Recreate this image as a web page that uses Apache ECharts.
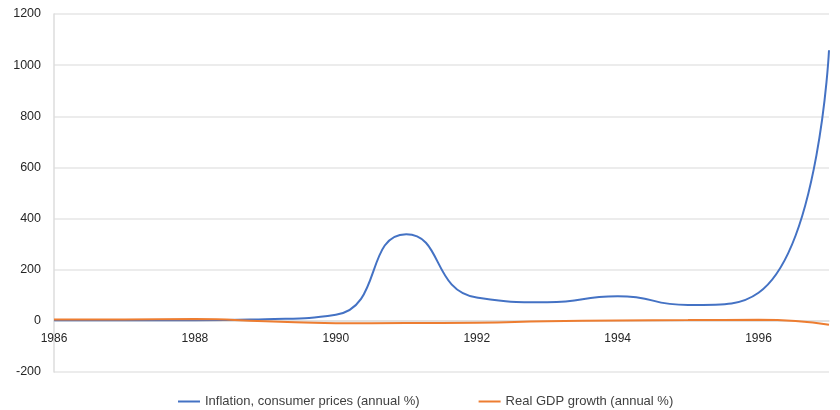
<!DOCTYPE html>
<html>
<head>
<meta charset="utf-8">
<script src="https://cdn.jsdelivr.net/npm/echarts@6/dist/echarts.min.js"></script>
<style>html,body{margin:0;padding:0;background:#fff}#c{width:840px;height:410px}</style>
</head>
<body>
<div id="c"></div>
<script>
const years = [1986, 1987, 1988, 1989, 1990, 1991, 1992, 1993, 1994, 1995, 1996, 1997];
const inflation = [2.7, 2.7, 2.5, 6.4, 23.8, 338.5, 91.3, 72.9, 96.1, 62.1, 110, 1058];
const gdpGrowth = [5.3, 5.5, 7, -1.5, -9.1, -8.4, -7.3, -1.5, 1.8, 2.9, 4, -15];
const yTicks = { min: -200, max: 1200, interval: 200 };
const xTicks = { min: 1986, max: 1997, interval: 2 };
const seriesNames = ['Inflation, consumer prices (annual %)', 'Real GDP growth (annual %)'];

const chart = echarts.init(document.getElementById('c'));
const font = 'Liberation Sans, Arial, sans-serif';
const gridTop = 14, gridBottom = 38, H = 410;
const plotH = H - gridTop - gridBottom;
// position of value 0 measured from the plot bottom
const zeroFromBottom = plotH * (0 - yTicks.min) / (yTicks.max - yTicks.min);
chart.setOption({
  animation: false,
  backgroundColor: '#fff',
  grid: { left: 54, right: 11, top: gridTop, bottom: gridBottom },
  legend: {
    top: 390,
    left: 173,
    itemWidth: 22,
    itemHeight: 2,
    itemGap: 59,
    icon: 'rect',
    textStyle: { fontFamily: font, fontSize: 13, color: '#404040' },
    data: seriesNames
  },
  xAxis: {
    type: 'value',
    position: 'bottom',
    offset: -zeroFromBottom,
    min: xTicks.min, max: xTicks.max, interval: xTicks.interval,
    axisLine: { onZero: false, lineStyle: { color: '#dcdcdc', width: 1.5 } },
    axisTick: { show: false },
    splitLine: { show: false },
    axisLabel: { fontFamily: font, fontSize: 12, color: '#262626', margin: 12, showMaxLabel: false,
      formatter: v => String(v) }
  },
  yAxis: {
    type: 'value',
    min: yTicks.min, max: yTicks.max, interval: yTicks.interval,
    axisLine: { show: true, onZero: false, lineStyle: { color: '#dcdcdc', width: 1.5 } },
    axisTick: { show: false },
    splitLine: { lineStyle: { color: '#e6e6e6', width: 1.5 } },
    axisLabel: { fontFamily: font, fontSize: 12.5, color: '#262626', margin: 13, formatter: v => String(v) }
  },
  series: [
    {
      name: seriesNames[0], type: 'line', smooth: 0.55, showSymbol: false,
      lineStyle: { color: '#4472C4', width: 2 }, itemStyle: { color: '#4472C4' },
      data: years.map((y, i) => [y, inflation[i]])
    },
    {
      name: seriesNames[1], type: 'line', smooth: 0.55, showSymbol: false,
      lineStyle: { color: '#ED7D31', width: 2 }, itemStyle: { color: '#ED7D31' },
      data: years.map((y, i) => [y, gdpGrowth[i]])
    }
  ]
});
</script>
</body>
</html>
